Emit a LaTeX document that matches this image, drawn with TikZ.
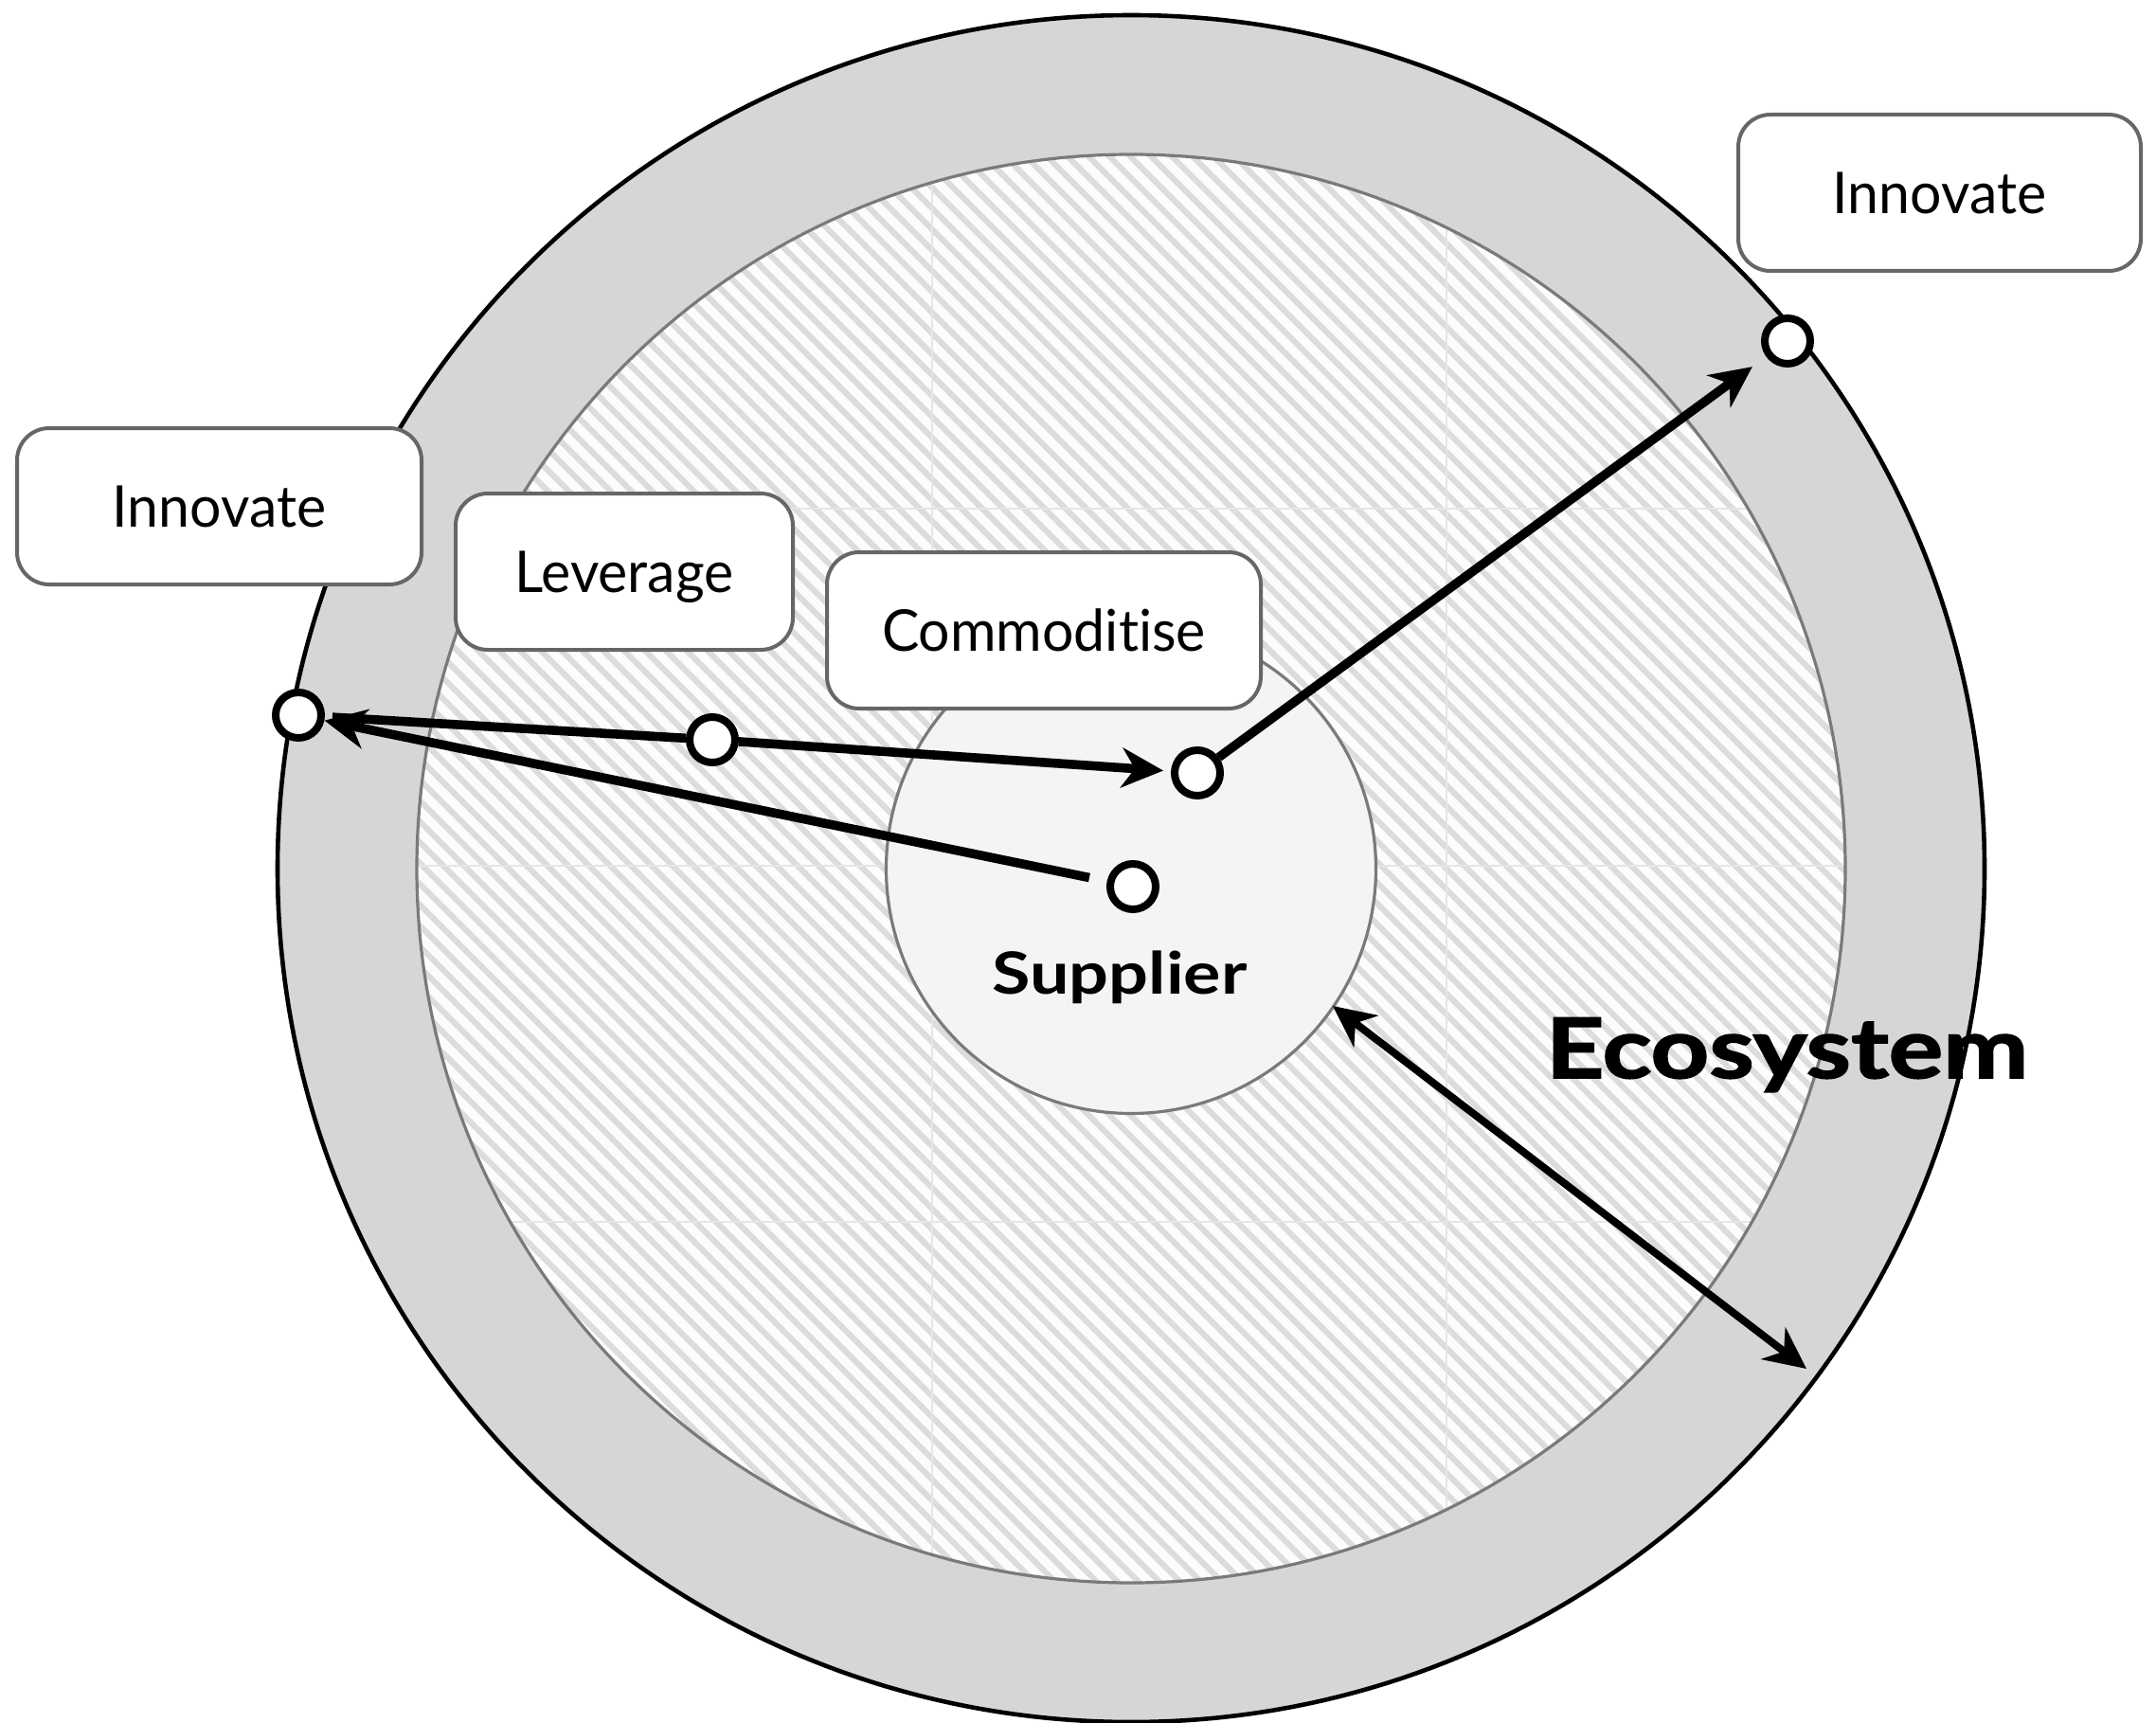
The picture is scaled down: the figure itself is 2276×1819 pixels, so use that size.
\documentclass[tikz,border=0pt]{standalone}
\usepackage{fontspec}
\setmainfont{Lato}
\newfontfamily\tagfont{Lato}[FakeStretch=0.97, Ligatures=NoCommon]
\newfontfamily\corefont{Lato}[FakeStretch=1.2]
\newfontfamily\ecofont{Lato}[FakeStretch=1.225, FakeBold=2]
\usetikzlibrary{arrows.meta}

\definecolor{ringgray}{HTML}{D6D6D6}
\definecolor{hatchbg}{HTML}{FCFCFC}
\definecolor{hatchline}{HTML}{DCDCDC}
\definecolor{seamgray}{HTML}{E6E6E6}
\definecolor{coregray}{HTML}{F4F4F4}
\definecolor{rimgray}{HTML}{7A7A7A}
\definecolor{boxedge}{HTML}{666666}

\tikzset{tipshape/.tip={Stealth[length=22pt, width=21pt, inset=7pt]}}

\begin{document}
\begin{tikzpicture}[x=0.5pt,y=-0.5pt,
  tag/.style={draw=boxedge, line width=2pt, fill=white, rounded corners=17pt,
    minimum height=82.5pt, inner sep=0pt, text height=21.8pt, text depth=0pt,
    font=\tagfont\fontsize{30.4pt}{36pt}\selectfont},
  dot/.style={circle, draw=black, line width=4pt, fill=white,
    minimum size=24pt, inner sep=0pt},
  conn/.style={draw=black, line width=4.8pt},
  span/.style={draw=black, line width=4pt},
  seam/.style={draw=seamgray, line width=0.6pt}]
\useasboundingbox (0,0) rectangle (2276,1819);

\coordinate (ctr) at (1194,917);

% grey outer ring
\fill[ringgray] (ctr) circle[radius=450.5pt];

% hatched ecosystem disc
\begin{scope}
  \clip (ctr) circle[radius=377pt];
  \fill[hatchbg] (ctr) circle[radius=377pt];
  \foreach \c in {-1160,-1138,...,1980}
    \draw[hatchline, line width=3.1pt] (\c,100) -- ++(1700,1700);
  \foreach \sx in {984,1527}
    \draw[seam] (\sx,100) -- (\sx,1750);
  \foreach \sy in {537,914,1290}
    \draw[seam] (400,\sy) -- (2000,\sy);
\end{scope}
\draw[rimgray, line width=1.6pt] (ctr) circle[radius=377pt];
\draw[black, line width=2.3pt] (ctr) circle[radius=450.5pt];

% supplier core
\node[circle, draw=rimgray, line width=1.6pt, fill=coregray,
  minimum size=258.5pt, inner sep=0pt] (core) at (ctr) {};

% labels in boxes
\node[tag, minimum width=213.5pt] (innovL) at (231.5,534.5) {Innovate};
\node[tag, minimum width=178pt] (lever) at (659,603.5) {Leverage};
\node[tag, minimum width=229pt] (commod) at (1102,665.5) {Commoditise};
\node[tag, minimum width=212.5pt] (innovR) at (2047.5,203.5) {Innovate};

% position markers
\node[dot] (mleft) at (315,755) {};
\node[dot] (mlev) at (752,781) {};
\node[dot] (mcomm) at (1264,816) {};
\node[dot] (msup) at (1196,936) {};
\node[dot] (mright) at (1887,360) {};

% movements between positions
\draw[conn, shorten <=4pt] (mleft) -- (mlev);
\draw[conn, -tipshape, shorten >=4pt] (mlev) -- (mcomm);
\draw[conn, -tipshape, shorten <=9.5pt] (msup) -- (mleft);
\draw[conn, -tipshape, shorten >=9pt] (mcomm) -- (mright);

% span of the ecosystem
\coordinate (ecoIn) at (1407,1062);
\coordinate (ecoOut) at (1907,1445);
\draw[span, tipshape-tipshape] (ecoIn) -- (ecoOut);

% titles
\node[anchor=base, inner sep=0pt,
  font=\corefont\bfseries\fontsize{30.7pt}{36pt}\selectfont] (suplabel) at (1182,1049) {Supplier};
\node[anchor=base, inner sep=0pt,
  font=\ecofont\bfseries\fontsize{44pt}{52pt}\selectfont] (ecolabel) at (1886.5,1138) {Ecosystem};
\end{tikzpicture}
\end{document}
